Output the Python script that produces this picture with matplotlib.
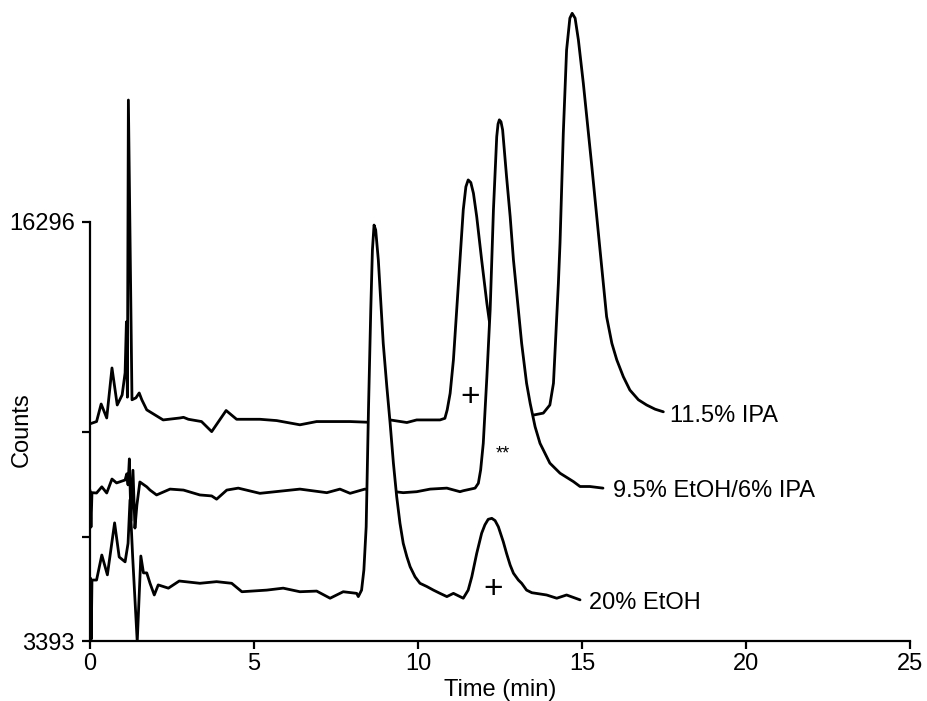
#!/usr/bin/env python
"""Overlay of three chromatograms run with different mobile phases.

Traces are drawn back to front, each one masking what lies beneath it,
so the front peaks hide the baselines of the traces behind them.
"""

import matplotlib

matplotlib.use("Agg")
import matplotlib.pyplot as plt

# 11.5% IPA (rear trace)
ipa_time = [0.00, 0.20, 0.34, 0.51, 0.67, 0.83, 0.98, 1.07, 1.11, 1.14,
            1.17, 1.28, 1.40, 1.50, 1.58, 1.73, 2.23, 2.74, 2.85, 3.00,
            3.40, 3.71, 4.15, 4.47, 5.18, 5.69, 6.40, 6.91, 7.93, 8.44,
            8.80, 9.15, 9.66, 9.96, 10.67, 10.82, 10.89, 10.98, 11.08, 11.18,
            11.28, 11.38, 11.46, 11.53, 11.61, 11.69, 11.79, 11.94, 12.10, 12.17,
            12.50, 12.90, 13.30, 13.52, 13.82, 14.02, 14.13, 14.18, 14.28, 14.33, 14.43,
            14.53, 14.63, 14.70, 14.79, 14.89, 15.04, 15.30, 15.55, 15.75, 15.91,
            16.06, 16.26, 16.46, 16.72, 16.97, 17.23, 17.48]
ipa_counts = [10080, 10150, 10690, 10260, 11800, 10660, 10970, 11650, 13220, 10900,
              20050, 10820, 10880, 11030, 10820, 10510, 10200, 10260, 10280, 10220,
              10150, 9840, 10490, 10220, 10220, 10180, 10050, 10150, 10150, 10130,
              10150, 10200, 10120, 10200, 10200, 10250, 10510, 11020, 12050, 13590,
              15130, 16670, 17380, 17590, 17510, 17180, 16460, 15130, 13790, 13280,
              11500, 10600, 10380, 10350, 10410, 10660, 11330, 12350, 14410, 15650, 19030,
              21590, 22570, 22720, 22570, 21900, 20570, 18000, 15430, 13380, 12560,
              12050, 11530, 11120, 10820, 10660, 10530, 10450]

# 9.5% EtOH/6% IPA (middle trace)
mix_time = [0.00, 0.03, 0.06, 0.20, 0.36, 0.51, 0.67, 0.81, 1.07, 1.12,
            1.16, 1.20, 1.25, 1.31, 1.37, 1.43, 1.52, 1.73, 1.83, 2.03,
            2.44, 2.85, 3.35, 3.71, 3.86, 4.17, 4.52, 5.18, 6.40, 7.22,
            7.62, 7.93, 8.38, 8.80, 9.30, 9.55, 9.96, 10.37, 10.88, 11.28,
            11.38, 11.74, 11.84, 11.91, 11.99, 12.10, 12.20, 12.30, 12.40, 12.44,
            12.48, 12.53, 12.58, 12.70, 12.81, 12.91, 13.06, 13.16, 13.31, 13.42,
            13.57, 13.72, 14.02, 14.33, 14.74, 14.94, 15.24, 15.64]
mix_counts = [8040, 6900, 7960, 7950, 8140, 7950, 8380, 8260, 8350, 8540,
              8200, 9000, 7100, 8650, 6870, 7580, 8290, 8140, 8040, 7890,
              8070, 8040, 7890, 7860, 7760, 8040, 8100, 7940, 8070, 7960,
              8070, 7940, 8070, 8000, 7990, 7960, 7990, 8070, 8100, 7990,
              8020, 8100, 8250, 8660, 9480, 11530, 13590, 16670, 18920, 19310,
              19440, 19380, 19130, 17690, 16460, 15130, 13590, 12560, 11330, 10710,
              9990, 9480, 8870, 8560, 8300, 8150, 8150, 8100]

# 20% EtOH (front trace)
etoh_time = [0.00, 0.015, 0.037, 0.06, 0.20, 0.36, 0.53, 0.75, 0.89, 1.07,
             1.16, 1.22, 1.30, 1.44, 1.55, 1.63, 1.73, 1.83, 1.96, 2.08,
             2.39, 2.72, 3.35, 3.86, 4.32, 4.63, 5.39, 5.89, 6.40, 6.91,
             7.32, 7.72, 8.13, 8.18, 8.28, 8.35, 8.42, 8.49, 8.56, 8.61,
             8.66, 8.71, 8.79, 8.94, 9.05, 9.15, 9.25, 9.35, 9.45, 9.55,
             9.66, 9.76, 9.91, 10.06, 10.27, 10.47, 10.67, 10.88, 11.08, 11.38,
             11.53, 11.64, 11.79, 11.94, 12.04, 12.14, 12.25, 12.35, 12.45, 12.60,
             12.70, 12.81, 12.91, 13.06, 13.16, 13.31, 13.47, 13.92, 14.23, 14.53, 14.94]
etoh_counts = [5150, 5330, 3450, 5270, 5270, 6040, 5430, 7030, 5980, 5830,
               6400, 7740, 6000, 3370, 6010, 5490, 5490, 5170, 4810, 5120,
               5020, 5240, 5170, 5220, 5170, 4910, 4960, 5020, 4910, 4930,
               4710, 4910, 4860, 4760, 4960, 5580, 6910, 10510, 13590, 15430,
               16200, 16050, 15130, 12560, 11220, 10100, 8870, 7840, 7020, 6400,
               5990, 5680, 5370, 5170, 5070, 4960, 4860, 4760, 4860, 4710,
               4960, 5370, 6090, 6710, 6970, 7140, 7170, 7100, 6910, 6450,
               6090, 5730, 5480, 5270, 5170, 4960, 4880, 4810, 4710, 4810, 4660]

trace_labels = ["11.5% IPA", "9.5% EtOH/6% IPA", "20% EtOH"]
# where each trace label starts (time, counts)
label_pos = [(17.68, 10320), (15.95, 8010), (15.21, 4560)]

y_ticks = [3393, 6590, 9830, 16296]
y_tick_labels = ["3393", "", "", "16296"]
x_ticks = [0, 5, 10, 15, 20, 25]

Y_MIN = 3393
Y_TOP = 23130  # data run above the axis, up to the top of the figure

plt.rcParams["font.family"] = ["Liberation Sans", "DejaVu Sans"]


def draw_trace(ax, t, counts, z):
    """Draw one trace with a white mask underneath it."""
    ax.fill_between(t, counts, Y_MIN - 2000, color="white", lw=0, zorder=z)
    ax.plot(t, counts, color="black", lw=2.0, solid_joinstyle="round",
            solid_capstyle="round", zorder=z + 0.5)


def main() -> None:
    fig = plt.figure(figsize=(9.28, 7.01), dpi=100)
    ax = fig.add_axes([90 / 928, 60 / 701, 820 / 928, 641 / 701])

    traces = [(ipa_time, ipa_counts), (mix_time, mix_counts), (etoh_time, etoh_counts)]
    for i, (t, c) in enumerate(traces):
        draw_trace(ax, t, c, 1 + 2 * i)
        ax.text(label_pos[i][0], label_pos[i][1], trace_labels[i], fontsize=17,
                ha="left", va="center", zorder=8)

    # peak markers
    ax.text(11.585, 10876, "+", fontsize=24, ha="center", va="center", zorder=8)
    ax.text(12.30, 4964, "+", fontsize=24, ha="center", va="center", zorder=8)
    ax.text(12.60, 9150, "**", fontsize=13, ha="center", va="center", zorder=8)

    ax.set_xlim(0, 25)
    ax.set_ylim(Y_MIN, Y_TOP)
    ax.set_xticks(x_ticks)
    ax.set_yticks(y_ticks)
    ax.set_yticklabels(y_tick_labels)

    for side in ("top", "right"):
        ax.spines[side].set_visible(False)
    ax.spines["left"].set_bounds(Y_MIN, 16296)
    ax.spines["bottom"].set_bounds(0, 25)
    for side in ("left", "bottom"):
        ax.spines[side].set_linewidth(1.6)
        ax.spines[side].set_zorder(10)

    ax.tick_params(direction="out", length=6, width=1.6, labelsize=17)
    ax.tick_params(axis="y", pad=5)
    ax.tick_params(axis="x", pad=3)

    ax.set_xlabel("Time (min)", fontsize=17, va="center")
    ax.xaxis.set_label_coords(0.5, -0.077)
    ax.set_ylabel("Counts", fontsize=17, va="center")
    ax.yaxis.set_label_coords(-0.083, 0.33)

    fig.savefig("out.png", dpi=100)
    plt.close(fig)


if __name__ == "__main__":
    main()
